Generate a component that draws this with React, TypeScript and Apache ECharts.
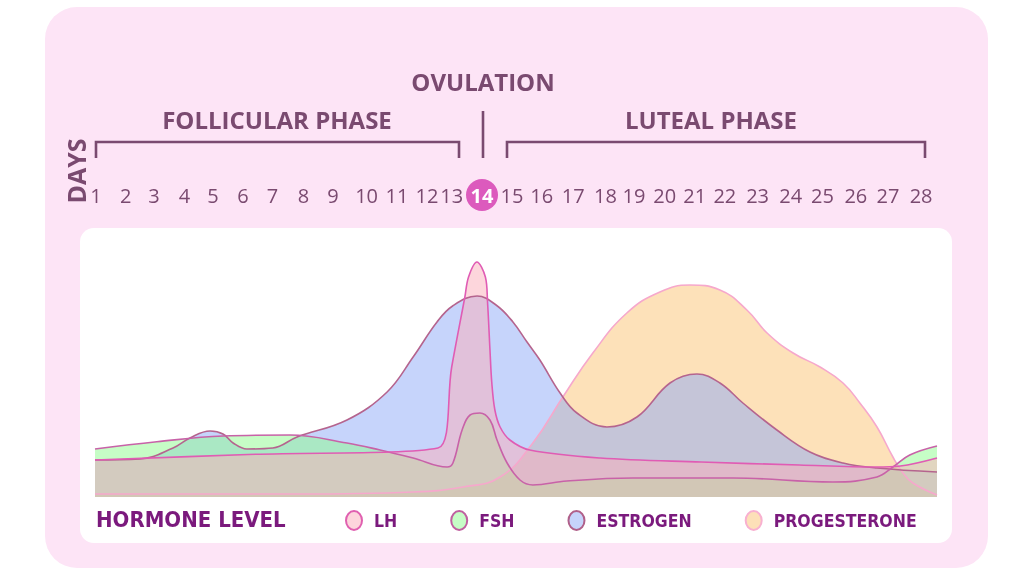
import React, { useEffect, useRef } from "react";
import * as echarts from "echarts";

// ---- Top day axis ----
const dayLabels = [1, 2, 3, 4, 5, 6, 7, 8, 9, 10, 11, 12, 13, 14, 15, 16, 17, 18, 19, 20, 21, 22, 23, 24, 25, 26, 27, 28];
const dayLabelPos = [1.03, 2.0, 2.93, 3.92, 4.85, 5.83, 6.8, 7.81, 8.77, 9.87, 10.86, 11.84, 12.65, 13.64, 14.62, 15.59, 16.62, 17.67, 18.6, 19.61, 20.59, 21.57, 22.64, 23.72, 24.76, 25.85, 26.9, 27.98];
const ovulationDay = 14;

// ---- Hormone curves (day, level 0-100) ----
const lhDays = [1, 6, 12.2, 12.65, 13.08, 13.2, 13.47, 13.75, 13.82, 13.9, 13.96, 14.06, 14.23, 14.55, 15.2, 17.5, 20.8, 24, 26.5, 27.3, 28.5];
const lhLevels = [14.8, 17, 19.6, 52, 80, 88, 94, 88, 78, 58.8, 45.6, 34.8, 28, 22.8, 18.8, 15.6, 14, 12.8, 12, 12.4, 15.6];

const fshDays = [1, 3.02, 5.18, 7.37, 9.23, 10.31, 11.39, 12.5, 12.69, 12.99, 13.25, 13.57, 13.9, 14.13, 14.46, 14.88, 15.3, 16.41, 18.57, 21.84, 25.1, 26.54, 27.06, 27.61, 28.5];
const fshLevels = [19.2, 22.1, 24.4, 24.8, 21.6, 18.8, 15.6, 12, 13.6, 26.8, 32.8, 33.6, 30.8, 22.8, 13.6, 6.8, 4.8, 6.4, 7.6, 7.6, 6, 8, 12, 16.8, 20.4];

const estrogenDays = [1, 2.47, 3.55, 4.1, 4.76, 5.18, 5.51, 5.96, 6.81, 7.6, 9.23, 10.54, 11.39, 12.17, 12.69, 13.48, 14.13, 14.65, 15.11, 15.53, 16.19, 16.74, 17.72, 18.7, 19.78, 20.66, 21.41, 22.16, 23.27, 24.35, 25.43, 26.54, 28.5];
const estrogenLevels = [14.8, 15.2, 19.6, 23.6, 26.4, 25.2, 21.6, 19.2, 19.6, 24, 30.8, 42, 56, 70, 76.5, 80.4, 76.5, 70, 62, 54.8, 41.6, 33.6, 28, 32, 45.6, 49.2, 45.6, 37.6, 26.8, 18, 13.6, 11.6, 10];

const progDays = [1, 7.69, 11.39, 13.02, 14.23, 15.3, 16.28, 17.26, 18.37, 19.45, 20.43, 21.41, 22.29, 22.95, 23.8, 24.68, 25.43, 25.98, 26.54, 27.06, 27.39, 27.71, 28.5];
const progLevels = [1.2, 1.2, 2, 4, 8, 21.6, 40, 57.6, 73.6, 82, 84.8, 82.8, 74.8, 65.6, 57.6, 52, 45.6, 37.6, 28, 16, 9.6, 5.6, 0.8];

const legendNames = ["LH", "FSH", "ESTROGEN", "PROGESTERONE"];

const HEAD = "#7a4a70";
const LEG = "#7b1a7d";
const NARROW = "'Liberation Sans Narrow', 'DejaVu Sans Condensed', Roboto";

const pairs = (xs: number[], ys: number[]) => xs.map((x, i) => [x, ys[i]]);

export default function App() {
  const ref = useRef<HTMLDivElement>(null);
  useEffect(() => {
    if (!ref.current) return;
    const chart = echarts.init(ref.current, null, { renderer: "svg" });

    const legendStyles: Record<string, any> = {
      LH: { color: "#fdd5dc", borderColor: "#e060b0", borderWidth: 2 },
      FSH: { color: "#c6fdc6", borderColor: "#c060a0", borderWidth: 2 },
      ESTROGEN: { color: "#c6d4fb", borderColor: "#b0608a", borderWidth: 2 },
      PROGESTERONE: { color: "#fde0b8", borderColor: "#f8b0d0", borderWidth: 2 },
    };

    const mkSeries = (name: string, data: number[][], line: string, fill: string, smooth: number) => ({
      type: "line",
      name,
      data,
      smooth,
      symbol: "none",
      showSymbol: false,
      xAxisIndex: 0,
      yAxisIndex: 0,
      itemStyle: { color: legendStyles[name].color },
      lineStyle: { color: line, width: 1.6 },
      areaStyle: { color: fill, opacity: 1 },
      emphasis: { disabled: true },
      z: 2,
    });

    const option: any = {
      animation: false,
      grid: { left: 95, right: 87, top: 247, bottom: 79, containLabel: false, outerBoundsMode: "none" },
      xAxis: [
        { type: "value", min: 1, max: 28.5, show: false, splitLine: { show: false } },
        {
          type: "value",
          min: 1,
          max: 28.5,
          position: "top",
          offset: 52,
          axisLine: { show: false },
          axisTick: { show: false },
          splitLine: { show: false },
          axisLabel: {
            customValues: dayLabelPos,
            margin: 0,
            verticalAlign: "middle",
            color: HEAD,
            fontSize: 20,
            fontFamily: "'Open Sans'",
            formatter: (v: number) => {
              let best = 0;
              for (let i = 0; i < dayLabelPos.length; i++) {
                if (Math.abs(dayLabelPos[i] - v) < Math.abs(dayLabelPos[best] - v)) best = i;
              }
              const d = dayLabels[best];
              return d === ovulationDay ? `{hi|${d}}` : `${d}`;
            },
            rich: {
              hi: {
                width: 32,
                height: 32,
                lineHeight: 32,
                borderRadius: 16,
                backgroundColor: "#dc5abd",
                color: "#ffffff",
                fontWeight: "bold",
                fontSize: 20,
                fontFamily: "'Open Sans'",
                align: "center",
              },
            },
          },
        },
      ],
      yAxis: { type: "value", min: 0, max: 100, show: false, splitLine: { show: false } },
      legend: {
        left: 340,
        top: 505,
        itemWidth: 16,
        itemHeight: 19,
        itemGap: 53,
        selectedMode: false,
        icon: "path://M8,0 A8,9.5 0 1,1 8,19 A8,9.5 0 1,1 8,0 Z",
        data: legendNames.map((n) => ({ name: n, itemStyle: legendStyles[n] })),
        textStyle: {
          color: LEG,
          fontWeight: "bold",
          fontSize: 17.5,
          fontFamily: NARROW,
          padding: [0, 0, 0, 7],
        },
      },
      graphic: [
        { type: "rect", z: -10, shape: { x: 45, y: 7, width: 943, height: 561, r: 32 }, style: { fill: "#fde4f6" } },
        { type: "rect", z: -9, shape: { x: 80, y: 228, width: 872, height: 315, r: 14 }, style: { fill: "#ffffff" } },
        { type: "polyline", z: 10, shape: { points: [[96, 158], [96, 142], [459, 142], [459, 158]] }, style: { stroke: HEAD, lineWidth: 2.6, fill: null } },
        { type: "line", z: 10, shape: { x1: 483, y1: 111, x2: 483, y2: 158 }, style: { stroke: HEAD, lineWidth: 2.6 } },
        { type: "polyline", z: 10, shape: { points: [[507, 158], [507, 142], [925, 142], [925, 158]] }, style: { stroke: HEAD, lineWidth: 2.6, fill: null } },
        { type: "text", z: 10, x: 483, y: 81, style: { text: "OVULATION", fill: HEAD, fontSize: 24, fontWeight: "bold", fontFamily: "'Open Sans'", align: "center", verticalAlign: "middle" } },
        { type: "text", z: 10, x: 277, y: 119, style: { text: "FOLLICULAR PHASE", fill: HEAD, fontSize: 24, fontWeight: "bold", fontFamily: "'Open Sans'", align: "center", verticalAlign: "middle" } },
        { type: "text", z: 10, x: 711, y: 119, style: { text: "LUTEAL PHASE", fill: HEAD, fontSize: 24, fontWeight: "bold", fontFamily: "'Open Sans'", align: "center", verticalAlign: "middle" } },
        { type: "text", z: 10, x: 76, y: 171, rotation: Math.PI / 2, style: { text: "DAYS", fill: HEAD, fontSize: 25, fontWeight: "bold", fontFamily: "'Open Sans'", align: "center", verticalAlign: "middle" } },
        { type: "text", z: 10, x: 96, y: 519, style: { text: "HORMONE LEVEL", fill: LEG, fontSize: 22, fontWeight: "bold", fontFamily: NARROW, align: "left", verticalAlign: "middle" } },
      ],
      series: [
        mkSeries("PROGESTERONE", pairs(progDays, progLevels), "#f6a8cc", "rgba(251,195,115,0.5)", 0.45),
        mkSeries("ESTROGEN", pairs(estrogenDays, estrogenLevels), "#b5648e", "rgba(141,169,247,0.5)", 0.4),
        mkSeries("FSH", pairs(fshDays, fshLevels), "#c862a8", "rgba(141,251,141,0.5)", 0.4),
        mkSeries("LH", pairs(lhDays, lhLevels), "#e05cb4", "rgba(251,173,185,0.5)", 0.35),
      ],
    };
    chart.setOption(option);
    return () => chart.dispose();
  }, []);
  return <div ref={ref} style={{ position: "fixed", left: 0, top: 0, width: 1024, height: 576 }} />;
}
